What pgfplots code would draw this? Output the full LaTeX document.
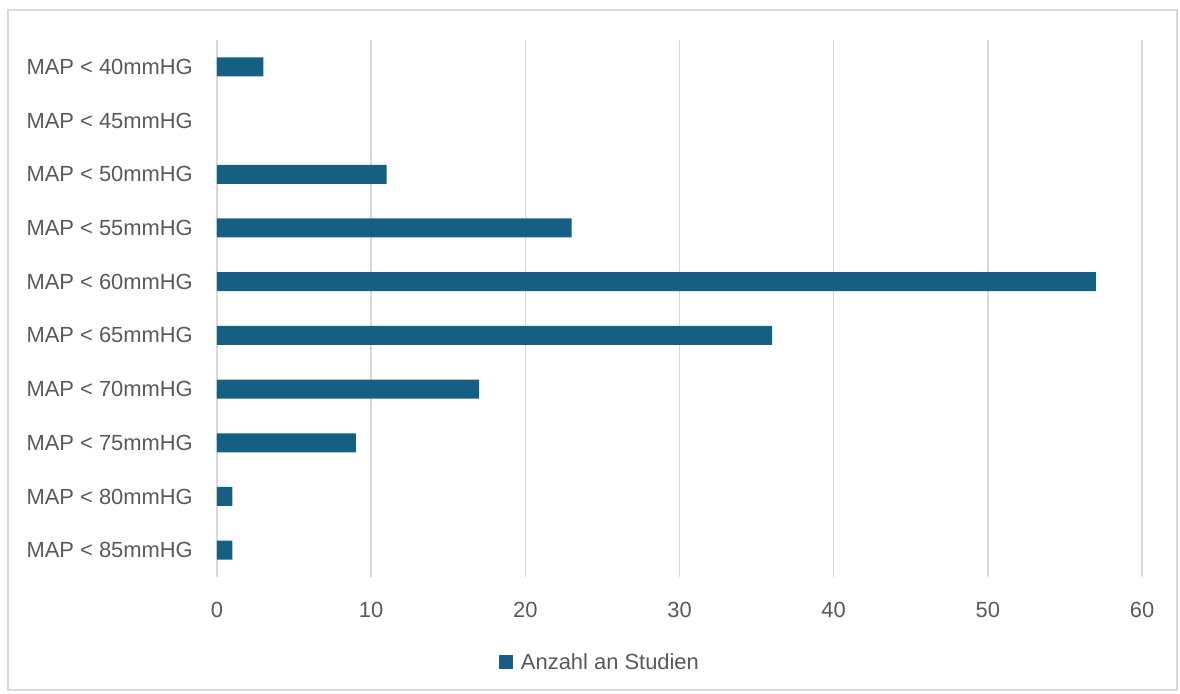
\documentclass[border=0pt]{standalone}
\usepackage{pgfplots}
\pgfplotsset{compat=1.18}
\usepackage{fontspec}
\setmainfont{Liberation Sans}
\definecolor{barc}{HTML}{156082}
\definecolor{txt}{HTML}{595959}
\definecolor{gridc}{HTML}{D9D9D9}
\begin{document}
\begin{tikzpicture}
\begin{axis}[
  scale only axis, width=925bp, height=537bp,
  xbar, bar width=19bp,
  xmin=0, xmax=60, ymin=-0.5, ymax=9.5, y dir=reverse,
  ytick={0,...,9},
  yticklabels={MAP < 40mmHG,MAP < 45mmHG,MAP < 50mmHG,MAP < 55mmHG,MAP < 60mmHG,MAP < 65mmHG,MAP < 70mmHG,MAP < 75mmHG,MAP < 80mmHG,MAP < 85mmHG},
  xtick={0,10,...,60},
  axis line style={draw=none},
  major tick length=0pt,
  xmajorgrids, grid style={draw=gridc, line width=1.4bp},
  tick label style={font=\fontsize{22}{26}\selectfont, text=txt, inner sep=0pt},
  /pgf/number format/assume math mode=true,
  yticklabel style={anchor=east, xshift=-24bp},
  xticklabel style={anchor=north, yshift=-25bp},
  clip=false,
  legend style={at={(0.414,0)}, anchor=center, yshift=-85bp, draw=none,
    font=\fontsize{22}{26}\selectfont, text=txt, inner sep=0pt,
    /tikz/every even column/.append style={column sep=0pt}},
  legend image code/.code={\fill[barc] (0bp,-7bp) rectangle (14bp,7bp); \path (20bp,0bp);},
]
\addplot[draw=none, fill=barc] coordinates {
  (3,0) (11,2) (23,3) (57,4) (36,5) (17,6) (9,7) (1,8) (1,9)};
\addlegendentry{Anzahl an Studien}
\coordinate (LL) at (axis cs:0,9.5);
\coordinate (UR) at (axis cs:60,-0.5);
\end{axis}
\path ([shift={(-217bp,-116bp)}]LL) rectangle ([shift={(38bp,40bp)}]UR);
\draw[gridc, line width=1.5bp] ([shift={(-209bp,-113bp)}]LL) rectangle ([shift={(35bp,30bp)}]UR);
\end{tikzpicture}
\end{document}
